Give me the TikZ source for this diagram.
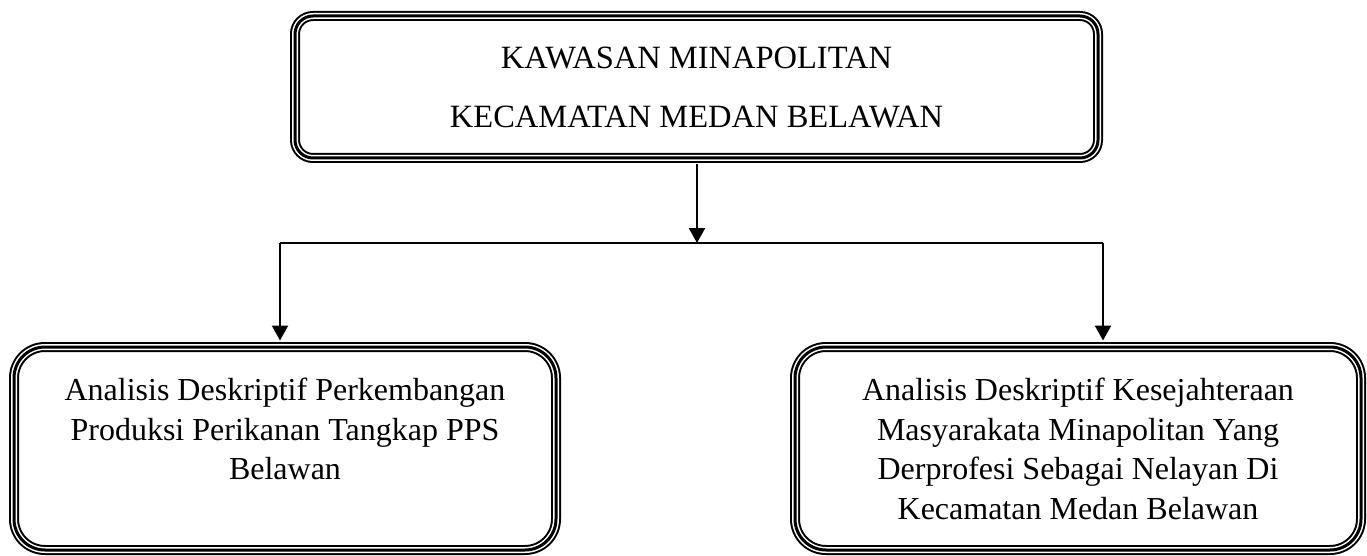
\documentclass[tikz,border=0pt]{standalone}
\usepackage{fontspec}
\setmainfont{Liberation Serif}
\usetikzlibrary{arrows.meta}
\tikzset{
  tribox/.style={rectangle, rounded corners=#1, inner sep=0pt,
    preaction={draw=black, line width=10pt},
    preaction={draw=white, line width=6pt},
    draw=black, line width=3pt},
  boxtext/.style={inner sep=0pt, anchor=north, align=center, font=\fontsize{32pt}{39.5pt}\selectfont},
  conn/.style={line width=2pt},
  arr/.style={line width=2.4pt, -{Triangle[length=15pt,width=16pt]}}
}
\begin{document}
\begin{tikzpicture}[x=1pt,y=-1pt]
\useasboundingbox (0,0) rectangle (1367,556);
% boxes
\node[tribox=18pt, minimum width=803pt, minimum height=142pt] (top) at (696.5,87) {};
\node[tribox=31pt, minimum width=542pt, minimum height=203pt] (bl) at (285,448.5) {};
\node[tribox=31pt, minimum width=566pt, minimum height=203pt] (br) at (1078,448.5) {};
% texts
\node[boxtext, font=\fontsize{32.5pt}{59pt}\selectfont] (ttop) at (696.5,38)
  {\vrule height30pt width0pt KAWASAN MINAPOLITAN\\KECAMATAN MEDAN BELAWAN};
\node[boxtext] (tbl) at (285,370.5)
  {\vrule height30pt width0pt Analisis Deskriptif Perkembangan\\Produksi Perikanan Tangkap PPS\\Belawan};
\node[boxtext] (tbr) at (1078,370.5)
  {\vrule height30pt width0pt Analisis Deskriptif Kesejahteraan\\Masyarakata Minapolitan Yang\\Derprofesi Sebagai Nelayan Di\\Kecamatan Medan Belawan};
% connectors
\coordinate (topout) at ([yshift=-5pt]top.south);
\coordinate (j) at (697,243);
\coordinate (jl) at (280,243);
\coordinate (jr) at (1103,243);
\coordinate (bltop) at ([yshift=5pt]bl.north);
\coordinate (brtop) at ([yshift=5pt]br.north);
\draw[arr] (topout -| j) -- (j);
\draw[conn] (jl) -- (jr);
\draw[arr] (jl) -- (jl |- bltop);
\draw[arr] (jr) -- (jr |- brtop);
\end{tikzpicture}
\end{document}
